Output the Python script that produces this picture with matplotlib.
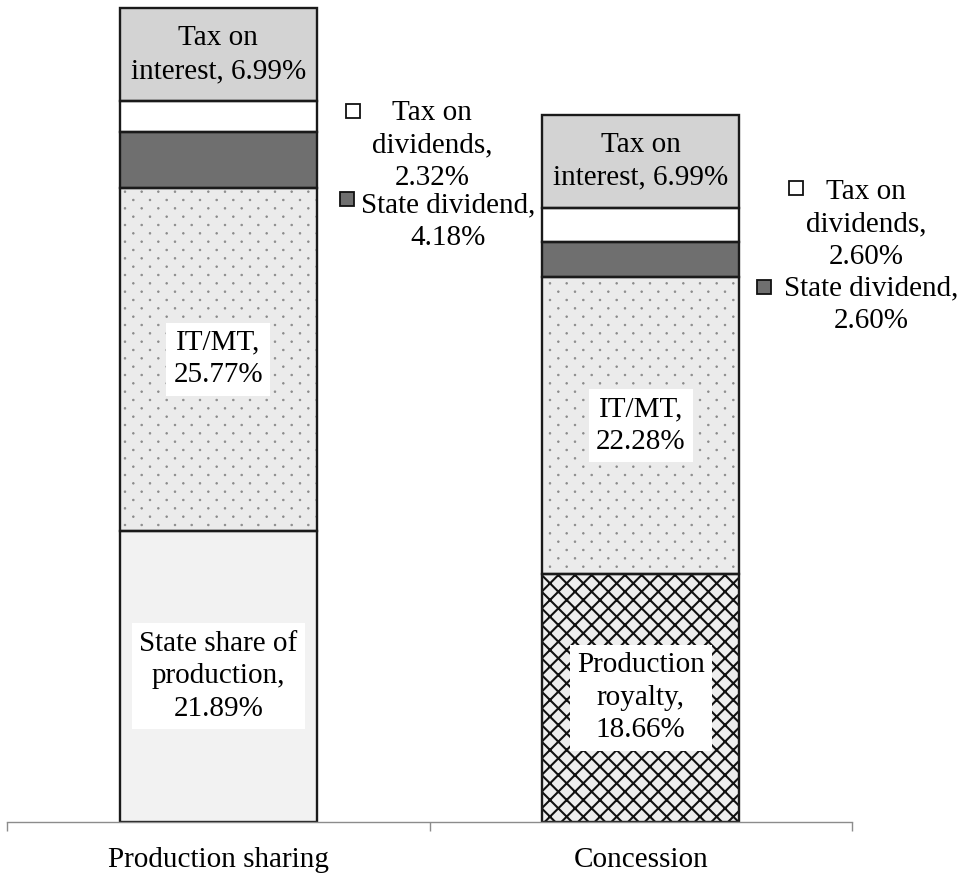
import numpy as np
import matplotlib
matplotlib.use("Agg")
import matplotlib.pyplot as plt
import matplotlib.hatch as mhatch
from matplotlib.path import Path
from matplotlib.ticker import FixedLocator

# ---- data -------------------------------------------------------------
categories = ["Production sharing", "Concession"]
base_names = ["State share of\nproduction", "Production\nroyalty"]
base_share = [21.89, 18.66]
itmt = [25.77, 22.28]
state_dividend = [4.18, 2.60]
tax_dividends = [2.32, 2.60]
tax_interest = [6.99, 6.99]


# ---- a staggered dot texture for the '.' hatch --------------------------
class DotLattice(mhatch.HatchPatternBase):
    """Filled dots on a 45-degree lattice (rows twice as dense as columns)."""

    def __init__(self, hatch, density):
        n = hatch.count(".") * density
        circ = Path.unit_circle()
        self.shape_vertices = circ.vertices
        self.shape_codes = circ.codes
        self.pts = []
        if n:
            rows = 2 * n
            for r in range(rows + 1):
                shift = 0.5 / n if r % 2 else 0.0
                ncols = n if r % 2 else n + 1
                for c in range(ncols):
                    self.pts.append((c / n + shift, r / rows))
        self.num_vertices = len(self.pts) * len(self.shape_vertices)

    def set_vertices_and_codes(self, vertices, codes):
        nv = len(self.shape_vertices)
        radius = 0.008
        for i, (x, y) in enumerate(self.pts):
            vertices[i * nv:(i + 1) * nv] = self.shape_vertices * radius + (x, y)
            codes[i * nv:(i + 1) * nv] = self.shape_codes


mhatch._hatch_types = [DotLattice if t is mhatch.SmallFilledCircles else t
                       for t in mhatch._hatch_types]

plt.rcParams["font.family"] = ["Liberation Serif", "DejaVu Serif"]
plt.rcParams["hatch.linewidth"] = 1.0
FS = 21
LS = 1.33

W, H = 962, 874
fig = plt.figure(figsize=(W / 100, H / 100), dpi=100)
ax_left, ax_right, ax_bottom_px = 7, 852, 822
ax = fig.add_axes([ax_left / W, (H - ax_bottom_px) / H,
                   (ax_right - ax_left) / W, ax_bottom_px / H])

x = np.arange(len(categories))
width = 0.466
edge = "#1a1a1a"

segments = [
    (base_share, ["#f2f2f2", "#eeeeee"], [None, "xx"], ["none", "#111111"]),
    (itmt, ["#ebebeb", "#ebebeb"], [".", "."], ["#8a8a8a", "#8a8a8a"]),
    (state_dividend, ["#6f6f6f", "#6f6f6f"], [None, None], ["none", "none"]),
    (tax_dividends, ["#ffffff", "#ffffff"], [None, None], ["none", "none"]),
    (tax_interest, ["#d3d3d3", "#d3d3d3"], [None, None], ["none", "none"]),
]

bottom = np.zeros(len(categories))
bottoms = []
for vals, faces, hatches, hcols in segments:
    vals = np.asarray(vals)
    bottoms.append(bottom.copy())
    for i in range(len(categories)):
        ax.bar(x[i], vals[i], width, bottom=bottom[i], color=faces[i],
               edgecolor="none", linewidth=0, zorder=2)
        if hatches[i]:
            lw = 1.5 if hatches[i] == "xx" else 0.6
            with plt.rc_context({"hatch.linewidth": lw}):
                ax.bar(x[i], vals[i], width, bottom=bottom[i], color="none",
                       edgecolor=hcols[i], hatch=hatches[i], linewidth=0,
                       zorder=3)
        ax.bar(x[i], vals[i], width, bottom=bottom[i], color="none",
               edgecolor=edge, linewidth=1.7, zorder=4)
    bottom = bottom + vals

box = dict(boxstyle="square,pad=0.25", facecolor="white", edgecolor="none")

# labels inside the bars
for i in range(len(categories)):
    b0 = bottoms[0][i]
    ax.text(x[i], b0 + base_share[i] / 2,
            f"{base_names[i]},\n{base_share[i]:.2f}%",
            ha="center", va="center", fontsize=FS, bbox=box, zorder=6,
            linespacing=LS)
    b1 = bottoms[1][i]
    ax.text(x[i], b1 + itmt[i] / 2, f"IT/MT,\n{itmt[i]:.2f}%",
            ha="center", va="center", fontsize=FS, bbox=box, zorder=6,
            linespacing=LS)
    b4 = bottoms[4][i]
    ax.text(x[i], b4 + tax_interest[i] / 2,
            f"Tax on\ninterest, {tax_interest[i]:.2f}%",
            ha="center", va="center", fontsize=FS, zorder=6, linespacing=LS)

# callout labels for the thin segments, with their colour keys
callouts = [
    # (value list, face, key x, key y, text x, text y, name)
    (tax_dividends, "#ffffff", [0.319, 1.367], [53.4, 47.6],
     [0.506, 1.533], [50.8, 44.9], "Tax on\ndividends"),
    (state_dividend, "#6f6f6f", [0.305, 1.291], [46.8, 40.2],
     [0.545, 1.546], [45.1, 38.9], "State dividend"),
]
for vals, face, kx, ky, tx, ty, name in callouts:
    for i in range(len(categories)):
        ax.plot(kx[i], ky[i], marker="s", markersize=10, markerfacecolor=face,
                markeredgecolor="#111111", markeredgewidth=1.3,
                linestyle="none", clip_on=False, zorder=6)
        ax.text(tx[i], ty[i], f"{name},\n{vals[i]:.2f}%", ha="center",
                va="center", fontsize=FS, linespacing=LS, zorder=6)

# axes styling
ax.set_xlim(-0.5, len(categories) - 0.5)
ax.set_ylim(0, ax_bottom_px / 13.31)
ax.set_xticks(x)
ax.set_xticklabels(categories, fontsize=FS)
ax.xaxis.set_minor_locator(FixedLocator(np.arange(-0.5, len(categories), 1.0)))
ax.tick_params(axis="x", which="major", length=0, pad=18)
ax.tick_params(axis="x", which="minor", length=6.5, width=1.0,
               color="#8c8c8c", direction="out")
ax.set_yticks([])
for side in ("left", "right", "top"):
    ax.spines[side].set_visible(False)
ax.spines["bottom"].set_color("#8c8c8c")
ax.spines["bottom"].set_linewidth(1.0)
ax.spines["bottom"].set_zorder(5)

fig.savefig("out.png", dpi=100, facecolor="white")
